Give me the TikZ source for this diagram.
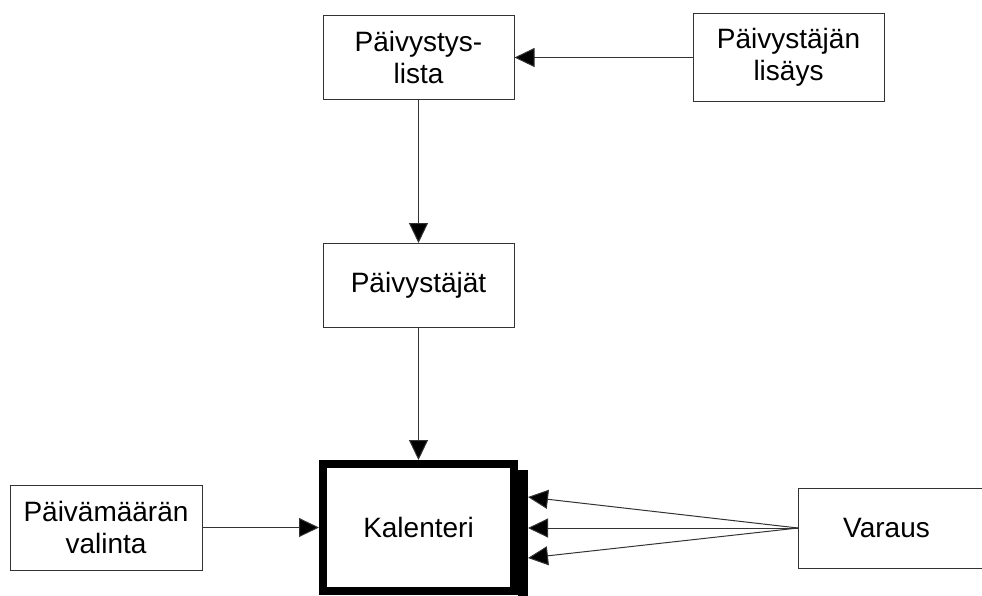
\documentclass[tikz,border=0pt]{standalone}
\usepackage{fontspec}
\setmainfont{Liberation Sans}
\usetikzlibrary{arrows.meta}
\begin{document}
\begin{tikzpicture}[x=1pt,y=-1pt,
  box/.style={draw=black!80,line width=1pt,fill=white,inner sep=0pt,align=center,
    font=\fontsize{28}{31.5}\selectfont},
  conn/.style={draw=black!80,line width=1pt,-{Triangle[length=20pt,width=19pt,fill=black]}},
]
\useasboundingbox (0,0) rectangle (982,595);
% boxes
\node[box,minimum width=191pt,minimum height=84pt] (lista) at (418.5,57.5) {Päivystys-\\lista};
\node[box,minimum width=191pt,minimum height=88pt] (lisays) at (788.5,57.5) {Päivystäjän\\lisäys};
\node[box,minimum width=191pt,minimum height=84pt] (paiv) at (418.5,285.5) {Päivystäjät};
\node[box,minimum width=192pt,minimum height=85pt] (valinta) at (106,527.5) {Päivämäärän\\valinta};
\node[box,minimum width=190pt,minimum height=80pt,anchor=west] (varaus) at (798,528) {\hspace*{-14pt}Varaus};
% Kalenteri with shadow stripe
\fill[black] (518,470) rectangle (528,597);
\node[box,draw=black,line width=8pt,minimum width=191pt,minimum height=127pt] (kal) at (418.5,527.5) {Kalenteri};
\coordinate (k1) at (528,497);
\coordinate (k2) at (528,528);
\coordinate (k3) at (528,558);
% connectors
\draw[conn] (lisays.west) -- (lista.east);
\draw[conn] (lista.south) -- (paiv.north);
\draw[conn] (paiv.south) -- (kal.north);
\draw[conn] (valinta.east) -- (kal.west);
\draw[conn] (varaus.west) -- (k1);
\draw[conn] (varaus.west) -- (k2);
\draw[conn] (varaus.west) -- (k3);
\end{tikzpicture}
\end{document}
